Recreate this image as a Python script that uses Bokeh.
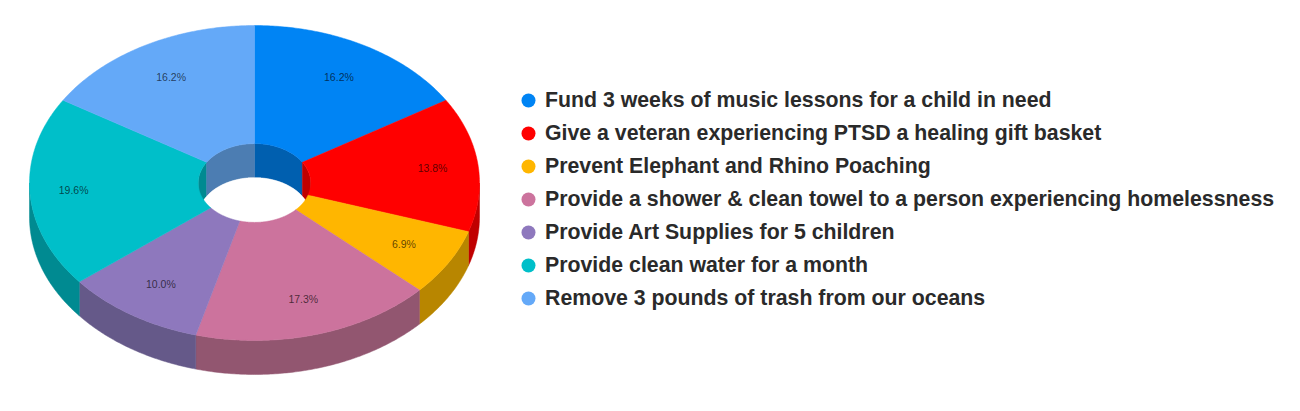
import numpy as np
from bokeh.plotting import figure
from bokeh.models import Range1d
from bokeh.core.properties import value
from bokeh.embed import file_html
from bokeh.resources import INLINE

categories = [
    "Fund 3 weeks of music lessons for a child in need",
    "Give a veteran experiencing PTSD a healing gift basket",
    "Prevent Elephant and Rhino Poaching",
    "Provide a shower & clean towel to a person experiencing homelessness",
    "Provide Art Supplies for 5 children",
    "Provide clean water for a month",
    "Remove 3 pounds of trash from our oceans",
]
shares = [16.2, 13.8, 6.9, 17.3, 10.0, 19.6, 16.2]
colors = ["#0084F4", "#FF0000", "#FFB600", "#CC739D", "#8E78BD", "#00BFC9", "#64A9F8"]
side_colors = ["#005FAF", "#C00000", "#B88600", "#925670", "#655989", "#008A91", "#4C7DB2"]

W, H = 1290, 395
CX, CY, RX, RY, DEPTH, HOLE = 254.0, 182.5, 225.0, 157.5, 34.0, 0.25
LABEL_R = 0.77
label_shift = [0, 6, 0, 1, 1, -8, 1]  # the renderer pushes the side labels outwards

p = figure(width=W, height=H, output_backend="svg", toolbar_location=None,
           x_range=Range1d(0, W), y_range=Range1d(H, 0),
           min_border=0, outline_line_color=None, background_fill_color="white")
p.axis.visible = False
p.grid.visible = False


def pt(a, k=1.0, dy=0.0):
    return CX + RX * k * np.sin(a), CY + dy - RY * k * np.cos(a)


def arc(a0, a1, k=1.0, dy=0.0):
    n = max(2, int(abs(a1 - a0) / 0.01))
    return pt(np.linspace(a0, a1, n), k, dy)


edges = np.cumsum([0.0] + shares) / sum(shares) * 2 * np.pi

# outer walls (only the lower half of the rim faces the viewer)
xs, ys, cs = [], [], []
for i, c in enumerate(side_colors):
    a0 = max(edges[i], np.pi / 2)
    a1 = min(edges[i + 1], 3 * np.pi / 2)
    if a1 > a0:
        tx, ty = arc(a0, a1)
        bx, by = arc(a1, a0, dy=DEPTH)
        xs.append(np.r_[tx, bx]); ys.append(np.r_[ty, by]); cs.append(c)
# inner walls (only the far half of the hole faces the viewer)
for i, c in enumerate(side_colors):
    for lo, hi in ((-np.pi / 2, np.pi / 2), (3 * np.pi / 2, 5 * np.pi / 2)):
        a0 = max(edges[i], lo)
        a1 = min(edges[i + 1], hi)
        if a1 > a0:
            tx, ty = arc(a0, a1, HOLE)
            bx, by = arc(a1, a0, HOLE, DEPTH)
            xs.append(np.r_[tx, bx]); ys.append(np.r_[ty, by]); cs.append(c)
p.patches(xs, ys, fill_color=cs, line_color=cs, line_width=0.5)

# floor of the hole: see-through, so page white
fx, fy = arc(0, 2 * np.pi, HOLE, DEPTH)
p.patch(fx, fy, fill_color="white", line_color="white", line_width=0.5)

# top face
xs, ys = [], []
for i in range(len(shares)):
    ox, oy = arc(edges[i], edges[i + 1])
    ix, iy = arc(edges[i + 1], edges[i], HOLE)
    xs.append(np.r_[ox, ix]); ys.append(np.r_[oy, iy])
p.patches(xs, ys, fill_color=colors, line_color=colors, line_width=0.5)

# percentage labels
mid = (edges[:-1] + edges[1:]) / 2
lx, ly = pt(mid, LABEL_R)
p.text(lx + np.array(label_shift), ly - 0.5, text=[f"{s:.1f}%" for s in shares],
       text_font=value("Liberation Sans"), text_font_size="10.5px", text_color="black",
       text_alpha=0.65, text_align="center", text_baseline="middle")

# legend
idx = np.arange(len(categories))
legend_y = 100 + 33 * idx
p.scatter(np.full(len(idx), 528.0), legend_y, size=14, fill_color=colors, line_color=colors, line_width=0)
p.text(np.full(len(idx), 544.5), legend_y - 1, text=categories, text_font=value("Liberation Sans"),
       text_font_size="21.3px", text_font_style="bold", text_color="#2a2a2a", text_align="left",
       text_baseline="middle")

open("out.html", "w").write(file_html(p, INLINE))
